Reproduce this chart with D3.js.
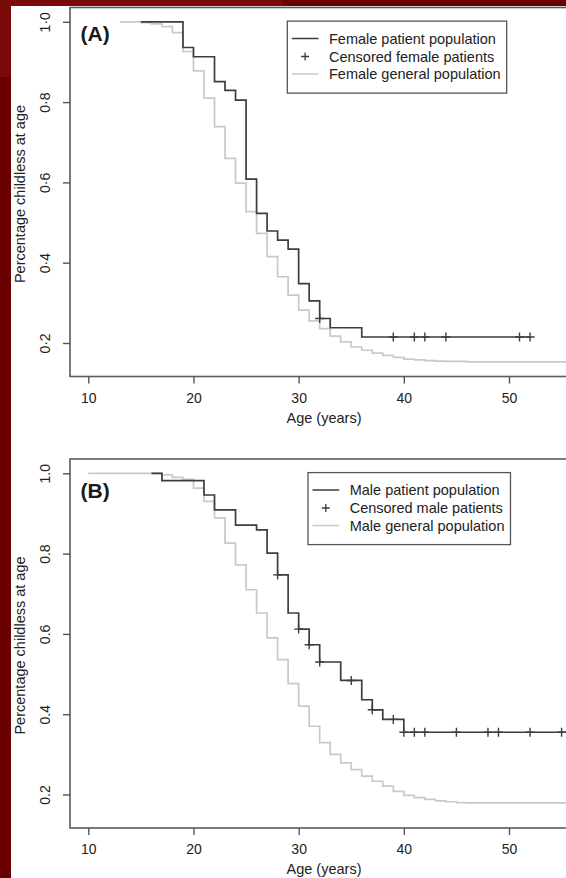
<!DOCTYPE html>
<html>
<head>
<meta charset="utf-8">
<script src="https://cdn.jsdelivr.net/npm/d3@7/dist/d3.min.js"></script>
<style>
  body { margin: 0; background: #6b0000; }
  svg { display: block; font-family: "Liberation Sans", Arial, Helvetica, sans-serif; }
  .axis text { font-size: 14px; fill: #222; }
  .axis line { stroke: #555; stroke-width: 1.4; }
</style>
</head>
<body>
<script>

/* tick values and labels */
var xTicks = [10, 20, 30, 40, 50];
var yTicks = [0.2, 0.4, 0.6, 0.8, 1.0];
var yTickLabelsA = ["0·2", "0·4", "0·6", "0·8", "1·0"]; // panel A uses the middle dot
var yTickLabelsB = ["0.2", "0.4", "0.6", "0.8", "1.0"];

/* (A) female patients: age of each step and proportion childless after it */
var femalePatientAge  = [15, 19, 20, 22, 23, 24, 25, 26, 27, 28, 29, 30, 31, 32, 33, 36, 52];
var femalePatientSurv = [1.0, 0.936, 0.913, 0.851, 0.829, 0.805, 0.608, 0.523, 0.479, 0.456, 0.434, 0.348, 0.305, 0.261, 0.238, 0.215, 0.215];
var femaleCensorAge   = [32, 39, 41, 42, 44, 51, 52];

/* (A) female general population */
var femaleGenAge  = [13, 15, 16, 17, 18, 19, 20, 21, 22, 23, 24, 25, 26, 27, 28, 29, 30, 31, 32, 33, 34, 35, 36, 37, 38, 39, 40, 41, 42, 43, 44, 46, 57];
var femaleGenSurv = [1.0, 0.998, 0.995, 0.988, 0.973, 0.926, 0.878, 0.81, 0.739, 0.66, 0.598, 0.527, 0.473, 0.415, 0.365, 0.319, 0.282, 0.255, 0.236, 0.217, 0.203, 0.19, 0.182, 0.175, 0.169, 0.164, 0.16, 0.158, 0.156, 0.155, 0.154, 0.153, 0.153];

/* (B) male patients */
var malePatientAge  = [16, 17, 21, 22, 24, 26, 27, 28, 29, 30, 31, 32, 34, 36, 37, 38, 40, 57];
var malePatientSurv = [1.0, 0.982, 0.946, 0.909, 0.871, 0.859, 0.801, 0.747, 0.652, 0.612, 0.573, 0.53, 0.484, 0.436, 0.411, 0.387, 0.355, 0.355];
var maleCensorAge   = [28, 30, 31, 32, 35, 37, 39, 40, 41, 42, 45, 48, 49, 52, 55];

/* (B) male general population */
var maleGenAge  = [10, 17, 18, 19, 20, 21, 22, 23, 24, 25, 26, 27, 28, 29, 30, 31, 32, 33, 34, 35, 36, 37, 38, 39, 40, 41, 42, 43, 44, 45, 46, 57];
var maleGenSurv = [1.0, 0.996, 0.99, 0.985, 0.963, 0.93, 0.889, 0.826, 0.772, 0.71, 0.652, 0.59, 0.536, 0.476, 0.42, 0.37, 0.329, 0.3, 0.279, 0.262, 0.246, 0.233, 0.221, 0.208, 0.198, 0.192, 0.188, 0.184, 0.182, 0.18, 0.179, 0.179];

var legendA = ["Female patient population", "Censored female patients", "Female general population"];
var legendB = ["Male patient population", "Censored male patients", "Male general population"];

var width = 566;
var height = 878;

var svg = d3.select("body")
            .append("svg")
            .attr("width", width)
            .attr("height", height);

/* the red frame round the scanned figure */
svg.append("rect").attr("width", width).attr("height", height).attr("fill", "#6b0000");
svg.append("rect").attr("width", 283).attr("height", 77).attr("fill", "#7a0909");
svg.append("rect").attr("x", 11).attr("y", 6)
    .attr("width", width - 11).attr("height", height - 6)
    .attr("fill", "#fff");

/* age scale is shared by both panels */
var xScale = d3.scaleLinear().domain([10, 50]).range([88.3, 509]);
var boxLeft = 70, boxRight = 580; // right side of the box is cropped off

var panels = [
    { top: 7.5, tag: "(A)", tagY: 26, yLabels: yTickLabelsA,
      patAge: femalePatientAge, patSurv: femalePatientSurv, censor: femaleCensorAge,
      genAge: femaleGenAge, genSurv: femaleGenSurv, legend: legendA, legendX: 287.3 },
    { top: 459, tag: "(B)", tagY: 31.5, yLabels: yTickLabelsB,
      patAge: malePatientAge, patSurv: malePatientSurv, censor: maleCensorAge,
      genAge: maleGenAge, genSurv: maleGenSurv, legend: legendB, legendX: 308 }
];

panels.forEach(drawPanel);

function drawPanel(p) {
    var g = svg.append("g").attr("transform", "translate(0," + p.top + ")");
    var boxH = 369;

    var yScale = d3.scaleLinear().domain([0.2, 1.0]).range([335.5, 14.3]);

    var line = d3.line()
                 .x(function(d) { return xScale(d[0]); })
                 .y(function(d) { return yScale(d[1]); })
                 .curve(d3.curveStepAfter);

    /* general population (light) */
    g.append("path")
        .datum(d3.zip(p.genAge, p.genSurv))
        .attr("d", line)
        .attr("fill", "none")
        .attr("stroke", "#c9c9c9")
        .attr("stroke-width", 1.7);

    /* patient population (dark) */
    g.append("path")
        .datum(d3.zip(p.patAge, p.patSurv))
        .attr("d", line)
        .attr("fill", "none")
        .attr("stroke", "#3d3d3d")
        .attr("stroke-width", 1.7);

    /* censor marks sit on the curve level at that age */
    g.selectAll(".censor")
        .data(p.censor)
        .enter()
        .append("path")
        .attr("class", "censor")
        .attr("d", "M-4.5,0H4.5M0,-4.5V4.5")
        .attr("transform", function(t) {
            var i = d3.bisectRight(p.patAge, t) - 1;
            return "translate(" + xScale(t) + "," + yScale(p.patSurv[i]) + ")";
        })
        .attr("stroke", "#3d3d3d")
        .attr("stroke-width", 1.4);

    /* box */
    g.append("rect")
        .attr("x", boxLeft).attr("y", 0)
        .attr("width", boxRight - boxLeft).attr("height", boxH)
        .attr("fill", "none")
        .attr("stroke", "#5a5a5a")
        .attr("stroke-width", 1.6);

    /* axes */
    var xAxis = d3.axisBottom(xScale).tickValues(xTicks).tickSize(7);
    var gx = g.append("g")
        .attr("class", "axis")
        .attr("transform", "translate(0," + boxH + ")")
        .call(xAxis);
    gx.select(".domain").remove();
    gx.selectAll("text").attr("y", 26).attr("dy", null);

    var yAxis = d3.axisLeft(yScale)
                  .tickValues(yTicks)
                  .tickSize(7)
                  .tickFormat(function(d, i) { return p.yLabels[i]; });
    var gy = g.append("g")
        .attr("class", "axis")
        .attr("transform", "translate(" + boxLeft + ",0)")
        .call(yAxis);
    gy.select(".domain").remove();
    gy.selectAll("text")   // R style: labels read upwards, parallel to the axis
        .attr("x", null).attr("dy", null)
        .attr("text-anchor", "middle")
        .attr("transform", "translate(-20,0) rotate(-90)");

    /* axis titles */
    g.append("text")
        .attr("x", 324)
        .attr("y", boxH + 46)
        .attr("text-anchor", "middle")
        .attr("font-size", 14.5)
        .attr("fill", "#222")
        .text("Age (years)");

    g.append("text")
        .attr("transform", "translate(25," + (boxH / 2 + 2) + ") rotate(-90)")
        .attr("text-anchor", "middle")
        .attr("font-size", 14.5)
        .attr("fill", "#222")
        .text("Percentage childless at age");

    /* panel tag */
    g.append("text")
        .attr("x", 80.5)
        .attr("y", p.tagY)
        .attr("dy", "0.35em")
        .attr("font-size", 21)
        .attr("font-weight", "bold")
        .attr("fill", "#1a1a1a")
        .text(p.tag);

    /* legend */
    var lg = g.append("g").attr("transform", "translate(" + p.legendX + ",0)");
    var rowY = [31, 49, 66.5];
    var lgBox = lg.append("rect")
        .attr("y", 13.6)
        .attr("height", 72)
        .attr("fill", "#fff")
        .attr("stroke", "#555")
        .attr("stroke-width", 1.3);

    var texts = lg.selectAll(".legend-text")
        .data(p.legend)
        .enter()
        .append("text")
        .attr("class", "legend-text")
        .attr("x", 41.7)
        .attr("y", function(d, i) { return rowY[i]; })
        .attr("dy", "0.35em")
        .attr("font-size", 14.5)
        .attr("fill", "#222")
        .text(function(d) { return d; });

    var textW = d3.max(texts.nodes(), function(n) { return n.getComputedTextLength(); });
    lgBox.attr("width", 41.7 + textW + 6);

    lg.append("line")
        .attr("x1", 4.5).attr("x2", 31.2)
        .attr("y1", rowY[0]).attr("y2", rowY[0])
        .attr("stroke", "#3d3d3d").attr("stroke-width", 1.5);
    lg.append("path")
        .attr("d", "M-4,0H4M0,-4V4")
        .attr("transform", "translate(17.8," + rowY[1] + ")")
        .attr("stroke", "#3d3d3d").attr("stroke-width", 1.3);
    lg.append("line")
        .attr("x1", 4.5).attr("x2", 31.2)
        .attr("y1", rowY[2]).attr("y2", rowY[2])
        .attr("stroke", "#c9c9c9").attr("stroke-width", 1.5);
}

</script>
</body>
</html>
